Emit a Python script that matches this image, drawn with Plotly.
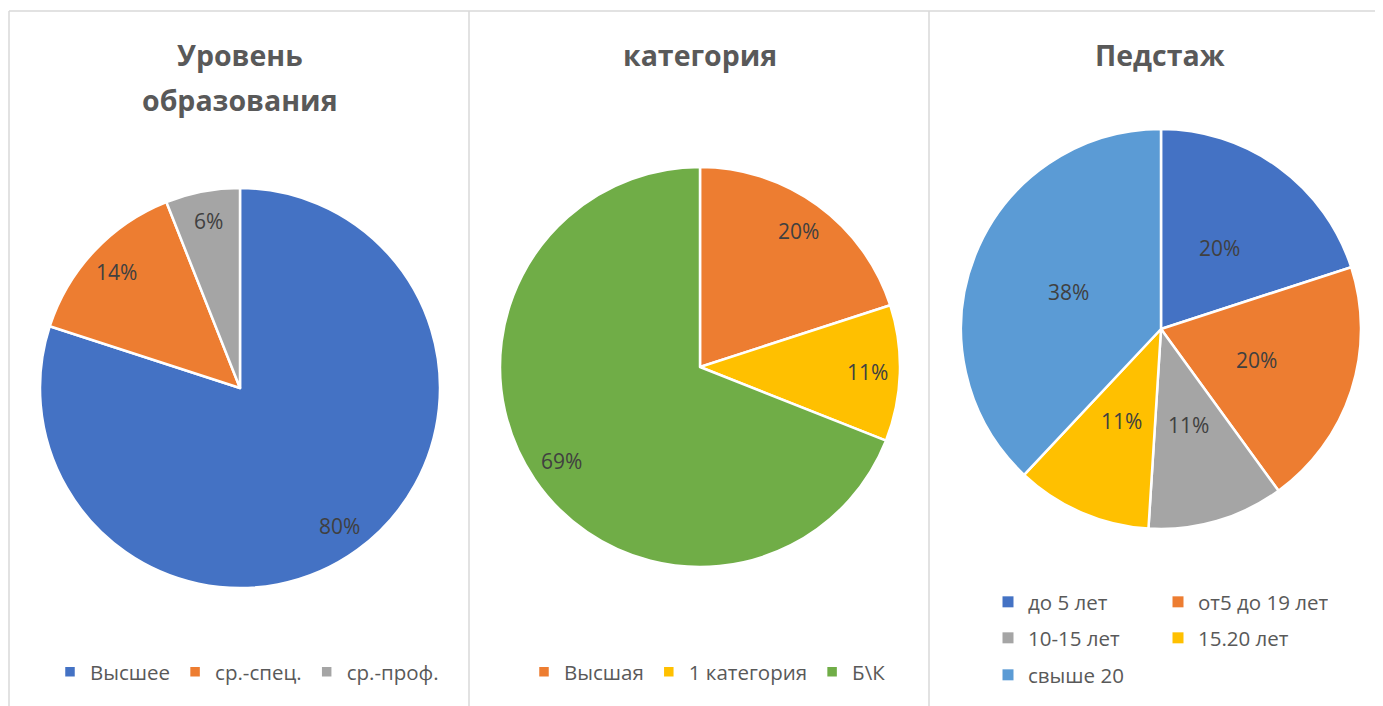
import math
import plotly.graph_objects as go

# the page body has an 8px margin; figure coordinates are reference pixels minus OFF
OFF = 8
W, H = 1383 - OFF, 706 - OFF

# ---- data ----
titles = [["Уровень", "образования"], ["категория"], ["Педстаж"]]

edu_labels = ["Высшее", "ср.-спец.", "ср.-проф."]
edu_values = [80, 14, 6]

cat_labels = ["Высшая", "1 категория", "Б\\К"]
cat_values = [20, 11, 69]

exp_labels = ["до 5 лет", "от5 до 19 лет", "10-15 лет", "15.20 лет", "свыше 20"]
exp_values = [20, 20, 11, 11, 38]

# ---- styling ----
BLUE, ORANGE, GRAY, YELLOW, LBLUE, GREEN = "#4472C4", "#ED7D31", "#A5A5A5", "#FFC000", "#5B9BD5", "#70AD47"
edu_colors = [BLUE, ORANGE, GRAY]
cat_colors = [ORANGE, YELLOW, GREEN]
exp_colors = [BLUE, ORANGE, GRAY, YELLOW, LBLUE]

FONT = "Open Sans"
TITLE_C = "#595959"
LABEL_C = "#404040"


def px_x(x):
    return (x - OFF) / W


def px_y(y):
    return (H - (y - OFF)) / H


# pie geometry in reference pixels (center x, center y from top, radius, label radius factor)
pies = [
    dict(labels=edu_labels, values=edu_values, colors=edu_colors, cx=240, cy=388, r=200, f=0.85, legend="legend"),
    dict(labels=cat_labels, values=cat_values, colors=cat_colors, cx=700, cy=367, r=200, f=0.84, legend="legend2"),
    dict(labels=exp_labels, values=exp_values, colors=exp_colors, cx=1161, cy=329, r=200, f=0.5, legend=None),
]

fig = go.Figure()
annotations = []

for p in pies:
    kw = dict(
        labels=p["labels"], values=p["values"], sort=False,
        direction="clockwise", rotation=0,
        marker=dict(colors=p["colors"], line=dict(color="white", width=2.5)),
        textinfo="none", hoverinfo="label+percent",
        domain=dict(x=[px_x(p["cx"] - p["r"]), px_x(p["cx"] + p["r"])],
                    y=[px_y(p["cy"] + p["r"]), px_y(p["cy"] - p["r"])]),
    )
    if p["legend"]:
        kw["legend"] = p["legend"]
    else:
        kw["showlegend"] = False
    fig.add_trace(go.Pie(**kw))

    total = sum(p["values"])
    cum = 0
    for v in p["values"]:
        th = 2 * math.pi * (cum + v / 2) / total
        cum += v
        lx = p["cx"] + p["f"] * p["r"] * math.sin(th)
        ly = p["cy"] - p["f"] * p["r"] * math.cos(th)
        annotations.append(dict(
            x=px_x(lx), y=px_y(ly), xref="paper", yref="paper",
            text=f"{round(100 * v / total)}%", showarrow=False,
            font=dict(family=FONT, size=21, color=LABEL_C),
            xanchor="center", yanchor="middle",
        ))

# legend entries for the third chart (two-column layout, three rows)
rows = [[0, 1], [2, 3], [4]]
row_legends = ["legend3", "legend4", "legend5"]
for ri, idxs in enumerate(rows):
    for i in idxs:
        fig.add_trace(go.Scatter(
            x=[None], y=[None], mode="markers", name=exp_labels[i],
            marker=dict(symbol="square", size=11, color=exp_colors[i]),
            legend=row_legends[ri], hoverinfo="skip",
        ))

# titles
title_cx = [240, 700, 1160]
for t, cx in zip(titles, title_cx):
    for li, line in enumerate(t):
        annotations.append(dict(
            x=px_x(cx), y=px_y(55 + 45 * li), xref="paper", yref="paper",
            text=f"<b>{line}</b>", showarrow=False,
            font=dict(family=FONT, size=28.5, color=TITLE_C),
            xanchor="center", yanchor="middle",
        ))

# panel borders
LINE_C = "#D9D9D9"
shapes = [
    dict(type="line", xref="paper", yref="paper", x0=px_x(9), x1=1, y0=px_y(11), y1=px_y(11),
         line=dict(color=LINE_C, width=1.5)),
]
for xv in [9, 469, 929]:
    shapes.append(dict(type="line", xref="paper", yref="paper", x0=px_x(xv), x1=px_x(xv),
                       y0=0, y1=px_y(11), line=dict(color=LINE_C, width=1.5)))

leg_font = dict(family=FONT, size=20.5, color=TITLE_C)


def leg(x_sq, y_c, entrywidth=None):
    d = dict(orientation="h", x=px_x(x_sq - 20), xanchor="left", y=px_y(y_c), yanchor="middle",
             font=leg_font, bgcolor="rgba(0,0,0,0)", itemclick=False, itemdoubleclick=False,
             tracegroupgap=0)
    if entrywidth:
        d["entrywidth"] = entrywidth
        d["entrywidthmode"] = "pixels"
    return d


fig.update_layout(
    width=W, height=H,
    margin=dict(l=0, r=0, t=0, b=0),
    paper_bgcolor="white", plot_bgcolor="white",
    xaxis=dict(visible=False), yaxis=dict(visible=False),
    legend=leg(70, 672),
    legend2=leg(544, 672),
    legend3=leg(1008, 602, 125),
    legend4=leg(1008, 638, 125),
    legend5=leg(1008, 675, 125),
    annotations=annotations,
    shapes=shapes,
    font=dict(family=FONT),
)

fig.write_html("out.html")
